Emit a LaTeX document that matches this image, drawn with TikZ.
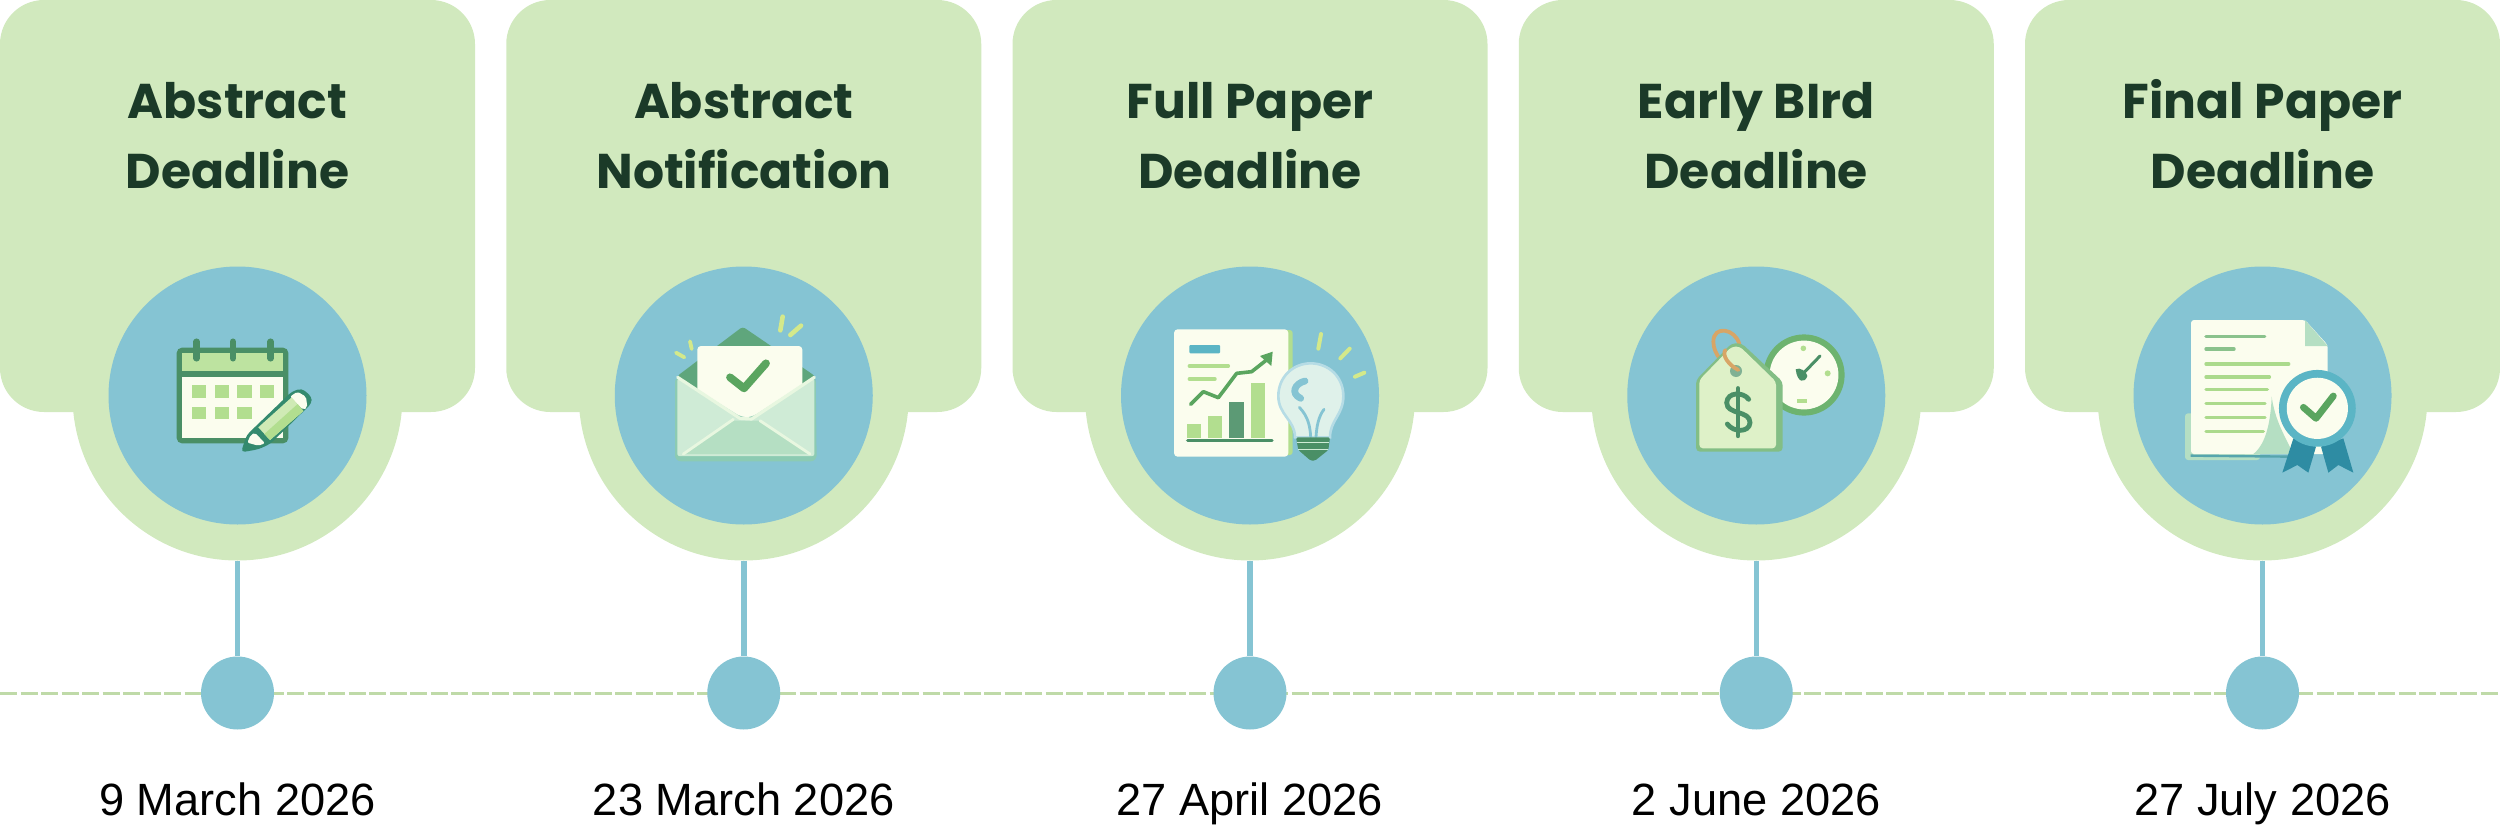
\documentclass[tikz,border=0pt]{standalone}
\usepackage{fontspec}
\setmainfont{Liberation Sans}
\newfontfamily\titlefont{Poppins}
\definecolor{panelgreen}{HTML}{D1E9BE}
\definecolor{dashgreen}{HTML}{BFDAA8}
\definecolor{skyblue}{HTML}{85C4D3}
\definecolor{titleink}{HTML}{1B3A28}
\definecolor{icondark}{HTML}{4A8F66}
\definecolor{iconmid}{HTML}{6DB36F}
\definecolor{iconlight}{HTML}{B2DE8F}
\definecolor{paperwhite}{HTML}{FBFDEE}
\definecolor{spark}{HTML}{D4E98A}
\definecolor{flapgreen}{HTML}{5FA67C}
\definecolor{mint}{HTML}{CFEBD6}
\definecolor{mintedge}{HTML}{8CCBB2}
\definecolor{mintdeep}{HTML}{B5DFC3}
\definecolor{mintpale}{HTML}{E8F7E0}
\definecolor{ribbon}{HTML}{2E8CA3}
\definecolor{badge}{HTML}{5BB5C5}
\definecolor{checkgreen}{HTML}{5AA55F}
\definecolor{ringorange}{HTML}{D8A566}
\tikzset{
  panelbox/.style={rectangle,rounded corners=22pt,fill=panelgreen,minimum width=237.5pt,minimum height=206pt,inner sep=0pt},
  halo/.style={circle,fill=panelgreen,minimum size=165pt,inner sep=0pt},
  disc/.style={circle,fill=skyblue,minimum size=129pt,inner sep=0pt},
  stopdot/.style={circle,fill=skyblue,minimum size=36.5pt,inner sep=0pt},
  stem/.style={draw=skyblue,line width=2.75pt},
  titletext/.style={text=titleink,font=\titlefont\bfseries\fontsize{24.4}{35}\selectfont,align=center,anchor=base,inner sep=0pt},
  datetext/.style={text=black,font=\fontsize{22.6}{26}\selectfont,anchor=base,inner sep=0pt},
  zoomed/.style 2 args={x=0.16667pt,y=-0.16667pt,shift={({#1*0.5pt},{-#2*0.5pt})}},
  strokeline/.style={line cap=round,line join=round},
}
\newcommand{\IconCalendar}{%
\begin{scope}[zoomed={130}{300}]
  \fill[icondark,rounded corners=2.6pt] (140,143) rectangle (475,430);
  \fill[iconlight!85!white] (157,158) rectangle (459,213);
  \fill[paperwhite] (157,232) rectangle (459,413);
  \foreach \rx in {200,309,422} \draw[icondark,line width=3.2pt,strokeline] (\rx,125)--(\rx,175);
  \foreach \sx/\sw in {187/42,255/43,322/43,390/42} \fill[iconlight] (\sx,255) rectangle ++(\sw,39);
  \foreach \sx/\sw in {187/42,255/43,322/43} \fill[iconlight] (\sx,320) rectangle ++(\sw,38);
  \fill[icondark!70!teal,rounded corners=2pt] (333,457)--(350,405)--(485,275)--(515,265)--(545,290)--(545,310)--(420,432)--(385,448)--cycle;
  \fill[paperwhite,rounded corners=1pt] (480,290)--(502,275)--(528,290)--(532,322)--(520,330)--cycle;
  \fill[iconlight!60!paperwhite] (385,382)--(485,292)--(520,333)--(420,420)--cycle;
  \fill[iconlight] (403,402)--(503,312)--(520,333)--(420,420)--cycle;
  \fill[paperwhite,rounded corners=1pt] (352,428)--(362,405)--(375,398)--(405,430)--(385,437)--cycle;
\end{scope}}
\newcommand{\IconEnvelope}{%
\begin{scope}[zoomed={640}{300}]
  \fill[flapgreen,rounded corners=1.5pt] (112,228)--(308,80)--(525,228)--(525,300)--(112,300)--cycle;
  \fill[paperwhite,rounded corners=1.8pt] (172,138) rectangle (487,370);
  \draw[checkgreen,line width=3.9pt,strokeline] (270,232)--(312,265)--(378,190);
  \fill[mintedge,rounded corners=3pt] (105,228)--(305,352)--(335,352)--(527,228)--(530,484)--(105,484)--cycle;
  \fill[mint,rounded corners=1pt] (112,236)--(300,358)--(340,358)--(523,236)--(523,468)--(112,468)--cycle;
  \fill[mintdeep] (130,462)--(280,362)--(360,362)--(510,462)--cycle;
  \draw[mintpale,line width=1.6pt,strokeline] (113,232)--(300,355)--(335,357)--(523,232);
  \draw[mintpale,line width=1.4pt,strokeline] (130,462)--(280,358);
  \draw[mintpale,line width=1.4pt,strokeline] (510,462)--(360,362);
  \draw[spark,line width=1.9pt,strokeline] (150,124)--(155,147);
  \draw[spark,line width=1.9pt,strokeline] (108,158)--(133,172);
  \draw[spark,line width=2.3pt,strokeline] (428,50)--(421,91);
  \draw[spark,line width=2.3pt,strokeline] (483,77)--(451,105);
\end{scope}}
\newcommand{\IconChart}{%
\begin{scope}[zoomed={1140}{300}]
  \fill[iconlight,rounded corners=1.5pt] (110,90) rectangle (458,465);
  \fill[paperwhite,rounded corners=1.8pt] (102,88) rectangle (445,470);
  \fill[badge,rounded corners=.5pt] (148,135) rectangle (240,160);
  \draw[iconlight,line width=1.7pt,strokeline] (148,198)--(265,198);
  \draw[iconlight,line width=1.7pt,strokeline] (148,237)--(225,237);
  \fill[iconlight] (142,372) rectangle (184,415);
  \fill[iconlight] (204,347) rectangle (246,415);
  \fill[icondark!90!white] (266,307) rectangle (312,415);
  \fill[iconlight] (333,250) rectangle (376,415);
  \draw[icondark,line width=1.7pt,strokeline] (143,422)--(396,422);
  \draw[checkgreen,line width=1.8pt,strokeline] (152,313)--(190,275)--(235,293)--(290,220)--(335,215)--(382,178);
  \fill[checkgreen] (398,155)--(394,198)--(360,168)--cycle;
  \fill[mintpale!70!skyblue!60!white,draw=skyblue!60!white,line width=1.3pt]
    (465,412) .. controls (465,360) and (415,345) .. (415,288)
    .. controls (415,230) and (460,190) .. (512,190)
    .. controls (565,190) and (610,230) .. (610,288)
    .. controls (610,345) and (570,360) .. (570,412) -- cycle;
  \draw[skyblue,line width=1.4pt,line cap=round] (478,322) .. controls (505,350) and (510,380) .. (512,410);
  \draw[skyblue,line width=1.4pt,line cap=round] (552,328) .. controls (535,350) and (530,380) .. (528,410);
  \draw[skyblue,line width=3.4pt,line cap=round] (495,243) .. controls (465,250) and (450,280) .. (482,295);
  \fill[icondark,rounded corners=.8pt] (468,412)--(570,412)--(565,450)--(525,482)--(512,482)--(475,450)--cycle;
  \draw[mint,line width=.7pt] (470,428)--(568,428);
  \draw[mint,line width=.7pt] (475,448)--(563,448);
  \draw[spark,line width=2pt,strokeline] (543,102)--(535,146);
  \draw[spark,line width=2pt,strokeline] (629,146)--(601,175);
  \draw[spark,line width=2pt,strokeline] (673,218)--(645,230);
\end{scope}}
\newcommand{\IconTag}{%
\begin{scope}[zoomed={1660}{300}]
  \fill[iconmid] (432,225) circle[radius=20.3pt];
  \fill[paperwhite] (432,225) circle[radius=17.2pt];
  \fill[iconlight] (430,145) circle[radius=1.4pt];
  \fill[iconlight] (503,220) circle[radius=1.5pt];
  \fill[iconlight] (410,298) rectangle (440,310);
  \draw[icondark,line width=1.5pt,strokeline] (425,225)--(480,168);
  \fill[icondark] (407,208) .. controls (420,200) and (440,215) .. (442,228) .. controls (435,250) and (412,250) .. (407,208) -- cycle;
  \draw[ringorange,line width=1.9pt,line cap=round] (238,132) .. controls (225,85) and (160,75) .. (160,125) .. controls (160,165) and (195,200) .. (232,213);
  \fill[iconmid!85!white,rounded corners=2pt] (108,240)--(215,130)--(245,130)--(368,245)--(368,455)--(108,455)--cycle;
  \fill[iconlight!40!paperwhite,rounded corners=1.8pt] (118,240)--(215,140)--(240,140)--(348,245)--(348,445)--(118,445)--cycle;
  \fill[icondark!70!white] (228,213) circle[radius=3pt];
  \draw[ringorange,line width=1.9pt,line cap=round] (196,150) .. controls (185,165) and (205,195) .. (235,210);
  \draw[icondark,line width=2.4pt,line cap=round] (266,298) .. controls (250,275) and (202,275) .. (200,308) .. controls (200,345) and (270,330) .. (270,368) .. controls (268,398) and (220,398) .. (202,372);
  \draw[icondark,line width=2.2pt,line cap=round] (234,265)--(234,408);
\end{scope}}
\newcommand{\IconPaper}{%
\begin{scope}[zoomed={2160}{300}]
  \fill[mintdeep,rounded corners=1.5pt] (75,340) rectangle (300,480);
  \fill[paperwhite,rounded corners=1.5pt] (93,60)--(435,60)--(503,135)--(503,462)--(93,462)--cycle;
  \fill[mintdeep] (435,60)--(503,138)--(435,138)--cycle;
  \fill[mintdeep] (280,462) .. controls (320,430) and (332,360) .. (335,290) .. controls (345,360) and (370,400) .. (400,462) -- cycle;
  \draw[ribbon!70!mintdeep,line width=1.2pt] (92,467)--(400,470);
  \draw[iconmid!80!white,line width=1.8pt,strokeline] (138,110)--(314,110);
  \draw[iconmid!80!white,line width=1.7pt,strokeline] (138,147)--(222,147);
  \foreach \ly/\lx in {192/386,231/328,269/322,311/315,352/315,394/310}
    \draw[iconlight!90!iconmid,line width=1.7pt,strokeline] (138,\ly)--(\lx,\ly);
  \fill[ribbon] (400,415)--(468,440)--(445,518)--(412,495)--(367,518)--cycle;
  \fill[ribbon] (483,440)--(550,415)--(580,518)--(535,495)--(505,518)--cycle;
  \fill[badge] (472,325) circle[radius=19.2pt];
  \fill[paperwhite] (472,325) circle[radius=15.3pt];
  \draw[checkgreen,line width=3.4pt,strokeline] (430,322)--(468,355)--(520,288);
\end{scope}}
\begin{document}
\begin{tikzpicture}[x=0.5pt,y=-0.5pt]
\useasboundingbox (0,0) rectangle (2500,840);
\coordinate (lineL) at (0,693.5);
\coordinate (lineR) at (2500,693.5);
\draw[dashgreen,line width=1.7pt,dash pattern=on 8.5pt off 1.75pt] (lineL) -- (lineR);
\foreach \i/\cx/\lineA/\lineB/\when in {
  1/237.5/Abstract/Deadline/9 March 2026,
  2/743.75/Abstract/Notification/23 March 2026,
  3/1250/Full Paper/Deadline/27 April 2026,
  4/1756.25/Early BIrd/Deadline/2 June 2026,
  5/2262.5/Final Paper/Deadline/27 July 2026}{
  \node[panelbox] (panel\i) at (\cx,206) {};
  \node[halo] (halo\i) at (\cx,395.5) {};
  \node[disc] (disc\i) at (\cx,395.5) {};
  \node[stopdot] (dot\i) at (\cx,693) {};
  \draw[stem] (halo\i.south) -- (dot\i.north);
  \node[titletext] (title\i) at (\cx,188) {\lineA\\\lineB};
  \node[datetext] (date\i) at (\cx,815) {\when};
}
\IconCalendar
\IconEnvelope
\IconChart
\IconTag
\IconPaper
\end{tikzpicture}
\end{document}
